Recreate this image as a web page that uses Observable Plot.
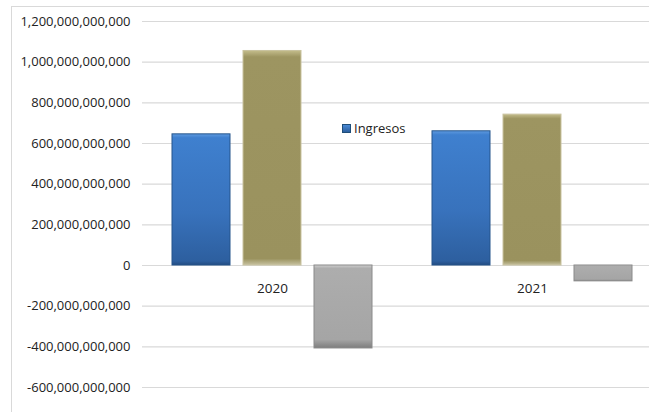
<!DOCTYPE html>
<html>
<head>
<meta charset="utf-8">
<script src="https://cdn.jsdelivr.net/npm/d3@7"></script>
<script src="https://cdn.jsdelivr.net/npm/@observablehq/plot@0.6"></script>
<style>
  html, body { margin: 0; padding: 0; background: #fff; }
  #wrap { position: relative; width: 649px; height: 412px; overflow: hidden; font-family: "Open Sans", sans-serif; }
  #border { position: absolute; left: 11px; top: 6px; right: -2px; bottom: -2px; border-left: 1px solid #d9d9d9; border-top: 1px solid #d9d9d9; pointer-events: none; }
  #legend { position: absolute; left: 342px; top: 119px; font-size: 13px; color: #222; display: flex; align-items: center; gap: 3px; }
  #legend .sw { width: 7px; height: 7px; background: linear-gradient(#4a8ad6, #2c5f9e); border: 1px solid #1f4e79; }
</style>
</head>
<body>
<div id="wrap"><div id="border"></div></div>
<script>
const years = ["2020", "2021"];
const series = ["Ingresos", "Gastos", "Resultado"];
const ingresos = [645e9, 660e9];
const gastos = [1055e9, 742e9];
const resultado = [-408e9, -78e9];
const yTicks = [-600e9, -400e9, -200e9, 0, 200e9, 400e9, 600e9, 800e9, 1000e9, 1200e9];

const rows = [];
years.forEach((yr, i) => {
  rows.push({year: yr, serie: series[0], value: ingresos[i]});
  rows.push({year: yr, serie: series[1], value: gastos[i]});
  rows.push({year: yr, serie: series[2], value: resultado[i]});
});

const fills = {Ingresos: "url(#gBlue)", Gastos: "url(#gOlive)", Resultado: "url(#gGray)"};
const strokes = {Ingresos: "#24558c", Gastos: "#c9c3a0", Resultado: "#8a8a8a"};
const fmt = d => d3.format(",.0f")(d).replace("\u2212", "-");

const chart = Plot.plot({
  width: 649,
  height: 412,
  marginLeft: 142,
  marginRight: 0,
  marginTop: 21,
  marginBottom: 25,
  style: {fontFamily: "Open Sans, sans-serif", fontSize: "13px", color: "#222", background: "transparent"},
  fx: {domain: years, range: [142, 662], padding: 0, axis: null},
  x: {domain: series, paddingInner: 0.18, paddingOuter: 0.41, axis: null},
  y: {domain: [-600e9, 1200e9], ticks: yTicks, tickFormat: fmt, tickSize: 0, tickPadding: 12, label: null},
  marks: [
    Plot.ruleY(yTicks, {stroke: "#d9d9d9", strokeWidth: 1.2, facet: "exclude"}),
    ...series.map(s => Plot.barY(rows.filter(r => r.serie === s), {
      fx: "year", x: "serie", y: "value",
      fill: fills[s], stroke: strokes[s], strokeWidth: 1
    })),
    Plot.text(years, {fx: d => d, y: [0, 0], text: d => d, dy: 23, fontSize: 13.5, fill: "#222"})
  ]
});

const svg = d3.select(chart.tagName === "svg" ? chart : chart.querySelector("svg"));
const defs = svg.insert("defs", ":first-child");
function grad(id, stops) {
  const g = defs.append("linearGradient").attr("id", id).attr("x1", 0).attr("y1", 0).attr("x2", 0).attr("y2", 1);
  stops.forEach(([o, c]) => g.append("stop").attr("offset", o).attr("stop-color", c));
}
grad("gBlue", [[0, "#5f9be0"], [0.03, "#3f80cf"], [0.6, "#3872bc"], [0.97, "#2d5f9f"], [1, "#234c80"]]);
grad("gOlive", [[0, "#c4bd8c"], [0.03, "#9d9561"], [0.97, "#9a925e"], [1, "#c6c1a0"]]);
grad("gGray", [[0, "#d0d0d0"], [0.04, "#adadad"], [0.9, "#a5a5a5"], [1, "#7d7d7d"]]);

chart.style.position = "absolute";
chart.style.left = "0px";
chart.style.top = "0px";
const wrap = document.getElementById("wrap");
wrap.insertBefore(chart, wrap.firstChild);

const legend = document.createElement("div");
legend.id = "legend";
legend.innerHTML = '<span class="sw"></span><span>Ingresos</span>';
wrap.appendChild(legend);
</script>
</body>
</html>
